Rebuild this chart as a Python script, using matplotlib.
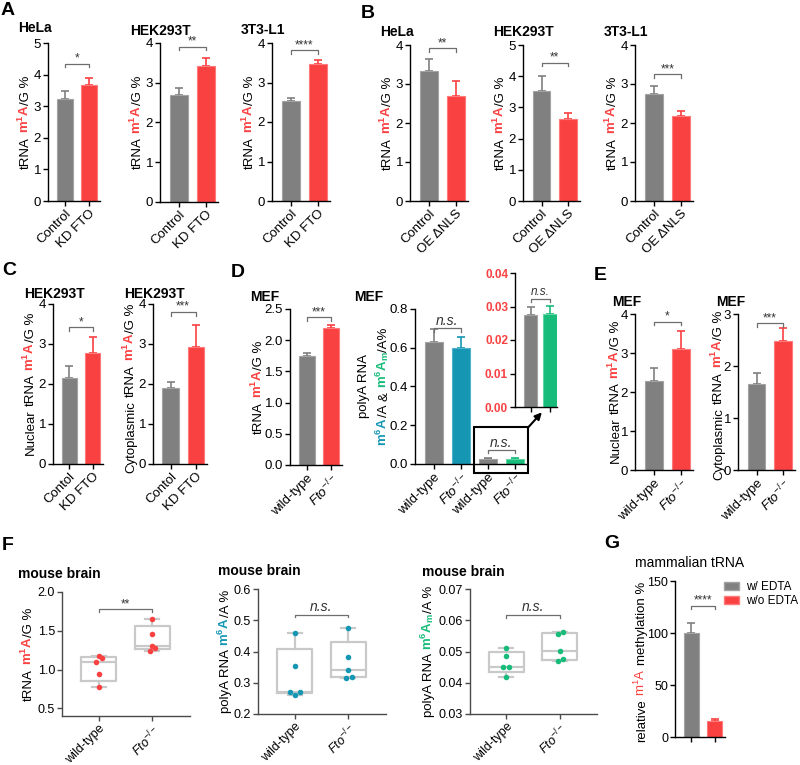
import numpy as np
import matplotlib
matplotlib.use('Agg')
import matplotlib.pyplot as plt
from matplotlib.patches import Patch, Rectangle

plt.rcParams['font.family'] = ['Liberation Sans', 'DejaVu Sans']
plt.rcParams['mathtext.fontset'] = 'custom'
plt.rcParams['mathtext.rm'] = 'Liberation Sans'
plt.rcParams['mathtext.it'] = 'Liberation Sans:italic'
plt.rcParams['mathtext.bf'] = 'Liberation Sans:bold'

W, H = 800, 765
GRAY = '#808080'
RED = '#fa4141'
BLUE = '#1597b4'
GREEN = '#18bc7a'
BOXC = '#c9c9c9'

# ---- data ----
a_labels = ['Control', 'KD FTO']
a_hela = [3.22, 3.67]
a_hela_sem = [0.25, 0.23]
a_hek = [2.70, 3.43]
a_hek_sem = [0.16, 0.20]
a_3t3 = [2.53, 3.47]
a_3t3_sem = [0.08, 0.09]

b_labels = ['Control', 'OE ΔNLS']
b_hela = [3.34, 2.68]
b_hela_sem = [0.30, 0.39]
b_hek = [3.53, 2.64]
b_hek_sem = [0.47, 0.19]
b_3t3 = [2.74, 2.19]
b_3t3_sem = [0.20, 0.13]

c_labels = ['Contol', 'KD FTO']
c_nuc = [2.15, 2.78]
c_nuc_sem = [0.29, 0.40]
c_cyto = [1.90, 2.93]
c_cyto_sem = [0.15, 0.55]

geno_labels = ['wild-type', r'$\mathit{Fto}^{-/-}$']
d_trna = [1.75, 2.20]
d_trna_sem = [0.04, 0.05]
d_polya = [0.63, 0.60, 0.0275, 0.0279]
d_polya_sem = [0.065, 0.055, 0.0023, 0.0023]

e_nuc = [2.28, 3.10]
e_nuc_sem = [0.33, 0.47]
e_cyto = [1.65, 2.49]
e_cyto_sem = [0.22, 0.24]

f_m1a_wt = [1.17, 1.15, 1.10, 0.94, 0.77]
f_m1a_ko = [1.65, 1.46, 1.30, 1.28, 1.24]
f_m6a_wt = [0.460, 0.355, 0.270, 0.270, 0.262]
f_m6a_ko = [0.476, 0.383, 0.341, 0.320, 0.315]
f_m6am_wt = [0.0512, 0.0487, 0.0450, 0.0450, 0.0418]
f_m6am_ko = [0.0564, 0.0556, 0.0503, 0.0476, 0.0470]

g_labels = ['w/ EDTA', 'w/o EDTA']
g_rel = [100, 15]
g_rel_sem = [9.5, 2.5]

# horizontal scatter of the dots in F (layout only)
jit_m1a = ([0, 0.06, -0.04, 0.01, 0.01], [0, 0, 0, 0.05, -0.05])
jit_m6a = ([0, 0, -0.09, 0.10, 0], [0, 0, 0, 0.06, -0.05])
jit_m6am = ([0, 0, -0.06, 0.05, 0], [0.06, -0.04, 0, 0.06, -0.03])

fig = plt.figure(figsize=(W / 100, H / 100), dpi=100)
renderer = fig.canvas.get_renderer()

TICK_FS = 9.5
XT_FS = 9
LAB_FS = 9.5


def px_axes(l, t, r, b):
    return fig.add_axes([l / W, 1 - b / H, (r - l) / W, (b - t) / H])


def style(ax, col='black', fs=TICK_FS):
    for s in ['top', 'right']:
        ax.spines[s].set_visible(False)
    for s in ['left', 'bottom']:
        ax.spines[s].set_linewidth(1.0)
        ax.spines[s].set_color(col)
    ax.tick_params(direction='out', length=3.5, width=1, labelsize=fs, pad=1.5,
                   color=col, labelcolor='black')


def bars(ax, vals, errs, colors, labels, ylim, yticks, fmt=None):
    x = np.arange(len(vals))
    edge = {GRAY: '#a3a3a3', RED: '#ff7a7a', BLUE: '#4fb3cc', GREEN: '#5fd7a2'}
    ax.bar(x, vals, width=0.65, color=colors,
           edgecolor=[edge[c] for c in colors], linewidth=0.8, zorder=2)
    for xi, v, e, c in zip(x, vals, errs, colors):
        ax.errorbar(xi, v, yerr=[[0], [e]], color=c, capsize=3,
                    elinewidth=1.2, capthick=1.2, zorder=1)
    ax.set_xlim(-0.7, len(vals) - 1 + 0.45)
    ax.set_ylim(*ylim)
    ax.set_yticks(yticks)
    if fmt:
        ax.set_yticklabels([fmt % v for v in yticks])
    ax.set_xticks(x)
    ax.set_xticklabels(labels, rotation=45, ha='right', rotation_mode='anchor',
                       fontsize=XT_FS)
    style(ax)


def sig(ax, x1, x2, y, text, italic=False, fs=8.5, col='#6e6e6e'):
    lo, hi = ax.get_ylim()
    h = (hi - lo) * 0.022
    ax.plot([x1, x1, x2, x2], [y - h, y, y, y - h], color=col, lw=0.9,
            clip_on=False)
    ax.annotate(text, xy=((x1 + x2) / 2, y), xytext=(0, 2.5 if italic else 1.5),
                textcoords='offset points', ha='center', va='baseline',
                fontsize=fs + (1.5 if italic else 0), color='#333333',
                style='italic' if italic else 'normal', annotation_clip=False)


SP = (' ', None, None)


def ylab(ax, parts, off, fs=LAB_FS, shift=0):
    # rotated label built from coloured pieces laid end to end
    bb = ax.get_position()
    x = bb.x0 - off / W
    yc = (bb.y0 + bb.y1) / 2 - shift / H
    items = []
    for s, c, w in parts:
        if s == ' ':
            items.append((None, fs * 0.28 * 100 / 72 / H))
            continue
        t = fig.text(x, 0, s, color=c, fontweight=w, fontsize=fs, rotation=90,
                     rotation_mode='anchor', ha='left', va='baseline')
        items.append((t, t.get_window_extent(renderer).height / H))
    total = sum(L for _, L in items)
    y = yc - total / 2
    for t, L in items:
        if t is not None:
            t.set_position((x, y))
        y += L


M1A = (r'$\mathbf{m^1A}$', RED, 'normal')
TRNA_M1A = [('tRNA', 'k', 'normal'), SP, M1A, ('/G %', 'k', 'normal')]
NUC_M1A = [('Nuclear', 'k', 'normal'), SP] + TRNA_M1A
CYT_M1A = [('Cytoplasmic', 'k', 'normal'), SP] + TRNA_M1A


def title(x, y, s, bold=True, fs=10):
    fig.text(x / W, 1 - y / H, s, fontsize=fs, fontweight='bold' if bold else 'normal',
             ha='left', va='top')


def letter(x, y, s):
    fig.text(x / W, 1 - y / H, s, fontsize=14, fontweight='bold', ha='left', va='top')


# ---------------- A ----------------
letter(1, 2, 'A')
ax = px_axes(48, 43, 100, 201)
bars(ax, a_hela, a_hela_sem, [GRAY, RED], a_labels, (0, 5), range(6))
sig(ax, 0, 1, 4.35, '*')
ylab(ax, TRNA_M1A, 19)
title(18, 21, 'HeLa')

ax = px_axes(160, 43, 218, 202)
bars(ax, a_hek, a_hek_sem, [GRAY, RED], a_labels, (0, 4), range(5))
sig(ax, 0, 1, 3.9, '**')
ylab(ax, TRNA_M1A, 19)
title(130, 24, 'HEK293T')

ax = px_axes(272, 43, 330, 201)
bars(ax, a_3t3, a_3t3_sem, [GRAY, RED], a_labels, (0, 4), range(5))
sig(ax, 0, 1, 3.82, '****')
ylab(ax, TRNA_M1A, 19)
title(241, 23, '3T3-L1')

# ---------------- B ----------------
letter(361, 5, 'B')
ax = px_axes(410, 45, 468, 201)
bars(ax, b_hela, b_hela_sem, [GRAY, RED], b_labels, (0, 4), range(5))
sig(ax, 0, 1, 3.92, '**')
ylab(ax, TRNA_M1A, 19)
title(380, 25, 'HeLa')

ax = px_axes(523, 45, 580, 201)
bars(ax, b_hek, b_hek_sem, [GRAY, RED], b_labels, (0, 5), range(6))
sig(ax, 0, 1, 4.43, '**')
ylab(ax, TRNA_M1A, 19)
title(493, 25, 'HEK293T')

ax = px_axes(635, 45, 693, 201)
bars(ax, b_3t3, b_3t3_sem, [GRAY, RED], b_labels, (0, 4), range(5))
sig(ax, 0, 1, 3.25, '***')
ylab(ax, TRNA_M1A, 19)
title(604, 25, '3T3-L1')

# ---------------- C ----------------
letter(2, 262, 'C')
ax = px_axes(53, 304, 103, 464)
bars(ax, c_nuc, c_nuc_sem, [GRAY, RED], c_labels, (0, 4), range(5))
sig(ax, 0, 1, 3.42, '*')
ylab(ax, NUC_M1A, 19)
title(24, 287, 'HEK293T')

ax = px_axes(153, 304, 207, 464)
bars(ax, c_cyto, c_cyto_sem, [GRAY, RED], c_labels, (0, 4), range(5))
sig(ax, 0, 1, 3.8, '***')
ylab(ax, CYT_M1A, 19, shift=4)
title(124, 287, 'HEK293T')

# ---------------- D ----------------
letter(231, 264, 'D')
ax = px_axes(290, 309, 342, 465)
bars(ax, d_trna, d_trna_sem, [GRAY, RED], geno_labels, (0, 2.5),
     [0, 0.5, 1, 1.5, 2, 2.5], '%.1f')
sig(ax, 0, 1, 2.37, '***')
ylab(ax, TRNA_M1A, 28)
title(250, 290, 'MEF')

axp = px_axes(415, 309, 527, 464)
bars(axp, d_polya, d_polya_sem, [GRAY, BLUE, GRAY, GREEN], geno_labels * 2,
     (0, 0.8), [0, 0.2, 0.4, 0.6, 0.8], '%.1f')
sig(axp, 0, 1, 0.70, 'n.s.', italic=True)
sig(axp, 2, 3, 0.072, 'n.s.', italic=True)
ylab(axp, [('polyA RNA', 'k', 'normal')], 48)
ylab(axp, [(r'$\mathbf{m^6A}$', BLUE, 'normal'), ('/A', 'k', 'normal'), SP,
           ('&', 'k', 'normal'), SP, (r'$\mathbf{m^6A_m}$', GREEN, 'normal'),
           ('/A%', 'k', 'normal')], 28)
title(354, 290, 'MEF')
axp.add_patch(Rectangle((1.5, -0.045), 2.0, 0.235, fill=False, lw=1.5,
                        ec='black', clip_on=False, zorder=5))

axi = px_axes(515, 273, 557, 407)
x = np.arange(2)
axi.bar(x, d_polya[2:], width=0.67, color=[GRAY, GREEN],
        edgecolor=['#a3a3a3', '#5fd7a2'], lw=0.8, zorder=2)
for xi, v, e, c in zip(x, d_polya[2:], d_polya_sem[2:], [GRAY, GREEN]):
    axi.errorbar(xi, v, yerr=[[0], [e]], color=c, capsize=3, elinewidth=1.2,
                 capthick=1.2, zorder=1)
axi.set_xlim(-0.8, 1.36)
axi.set_ylim(0, 0.04)
yt = [0, 0.01, 0.02, 0.03, 0.04]
axi.set_yticks(yt)
axi.set_yticklabels(['%.2f' % v for v in yt])
axi.set_xticks(x)
axi.set_xticklabels([])
style(axi, fs=8.5)
for t in axi.get_yticklabels():
    t.set_color(RED)
    t.set_fontweight('bold')
sig(axi, 0, 1, 0.0323, 'n.s.', italic=True, fs=7)
axp.annotate('', xy=(0.64, -0.04), xycoords=axi.transAxes,
             xytext=(3.5, 0.19), textcoords=axp.transData,
             arrowprops=dict(arrowstyle='-|>', color='black', lw=1.5,
                             mutation_scale=10, shrinkA=0, shrinkB=0))

# ---------------- E ----------------
letter(594, 267, 'E')
ax = px_axes(635, 314, 693, 470)
bars(ax, e_nuc, e_nuc_sem, [GRAY, RED], geno_labels, (0, 4), range(5))
sig(ax, 0, 1, 3.8, '*')
ylab(ax, NUC_M1A, 16)
title(612, 295, 'MEF')

ax = px_axes(738, 314, 795, 470)
bars(ax, e_cyto, e_cyto_sem, [GRAY, RED], geno_labels, (0, 3), range(4))
sig(ax, 0, 1, 2.82, '***')
ylab(ax, CYT_M1A, 16, shift=3)
title(716, 295, 'MEF')

# ---------------- F ----------------
letter(2, 537, 'F')


def pct_stats(vals, pos):
    q1, med, q3 = np.percentile(vals, [25, 50, 75], method='weibull')
    return dict(med=med, q1=q1, q3=q3, whislo=min(vals), whishi=max(vals),
                label=pos)


def boxpanel(ax, wt, ko, jit, color, ylim, yticks, fmt):
    stats = [pct_stats(wt, 0), pct_stats(ko, 1)]
    line = dict(color=BOXC, lw=1.6)
    ax.bxp(stats, positions=[0, 1], widths=0.65, showfliers=False,
           boxprops=line, whiskerprops=line, capprops=line, medianprops=line,
           capwidths=0.26)
    for i, (vals, j) in enumerate(zip([wt, ko], jit)):
        ax.scatter(np.array(j) + i, vals, s=16, color=color, zorder=3,
                   linewidths=0)
    ax.set_xlim(-0.68, 1.7)
    ax.set_ylim(*ylim)
    ax.set_yticks(yticks)
    ax.set_yticklabels([fmt % v for v in yticks])
    ax.set_xticks([0, 1])
    ax.set_xticklabels(geno_labels, rotation=45, ha='right',
                       rotation_mode='anchor', fontsize=8.5)
    style(ax, col='#4a4a4a', fs=9)


ax = px_axes(62, 592, 190, 716)
boxpanel(ax, f_m1a_wt, f_m1a_ko, jit_m1a, RED, (0.4, 2.0), [0.5, 1.0, 1.5, 2.0], '%.1f')
sig(ax, 0, 1, 1.78, '**')
ylab(ax, TRNA_M1A, 30)
title(18, 567, 'mouse brain')

ax = px_axes(258, 589, 386, 714)
boxpanel(ax, f_m6a_wt, f_m6a_ko, jit_m6a, BLUE, (0.2, 0.6), [0.2, 0.3, 0.4, 0.5, 0.6], '%.1f')
sig(ax, 0, 1, 0.518, 'n.s.', italic=True)
ylab(ax, [('polyA RNA', 'k', 'normal'), SP, (r'$\mathbf{m^6A}$', BLUE, 'normal'),
          ('/A %', 'k', 'normal')], 29)
title(218, 564, 'mouse brain')

ax = px_axes(470, 589, 597, 714)
boxpanel(ax, f_m6am_wt, f_m6am_ko, jit_m6am, GREEN, (0.03, 0.07),
         [0.03, 0.04, 0.05, 0.06, 0.07], '%.2f')
sig(ax, 0, 1, 0.0617, 'n.s.', italic=True)
ylab(ax, [('polyA RNA', 'k', 'normal'), SP, (r'$\mathbf{m^6A_m}$', GREEN, 'normal'),
          ('/A %', 'k', 'normal')], 38)
title(422, 565, 'mouse brain')

# ---------------- G ----------------
letter(604, 535, 'G')
ax = px_axes(675, 581, 725, 737)
bars(ax, g_rel, g_rel_sem, [GRAY, RED], ['', ''], (0, 150), [0, 50, 100, 150])
ax.tick_params(axis='y', labelsize=9)
sig(ax, 0, 1, 126, '****')
ylab(ax, [('relative', 'k', 'normal'), SP, (r'$\mathrm{m^1A}$', RED, 'normal'), SP,
          ('methylation %', 'k', 'normal')], 30, shift=3)
title(635, 556, 'mammalian tRNA', bold=False)
fig.legend([Patch(fc=GRAY, ec='#a3a3a3'), Patch(fc=RED, ec='#ff7a7a')], g_labels,
           loc='upper left', bbox_to_anchor=(724 / W, 1 - 581 / H), frameon=False,
           fontsize=8.5, handlelength=1.3, handleheight=0.6, handletextpad=0.6,
           labelspacing=0.2, borderaxespad=0, borderpad=0)

fig.savefig('out.png', dpi=100)
